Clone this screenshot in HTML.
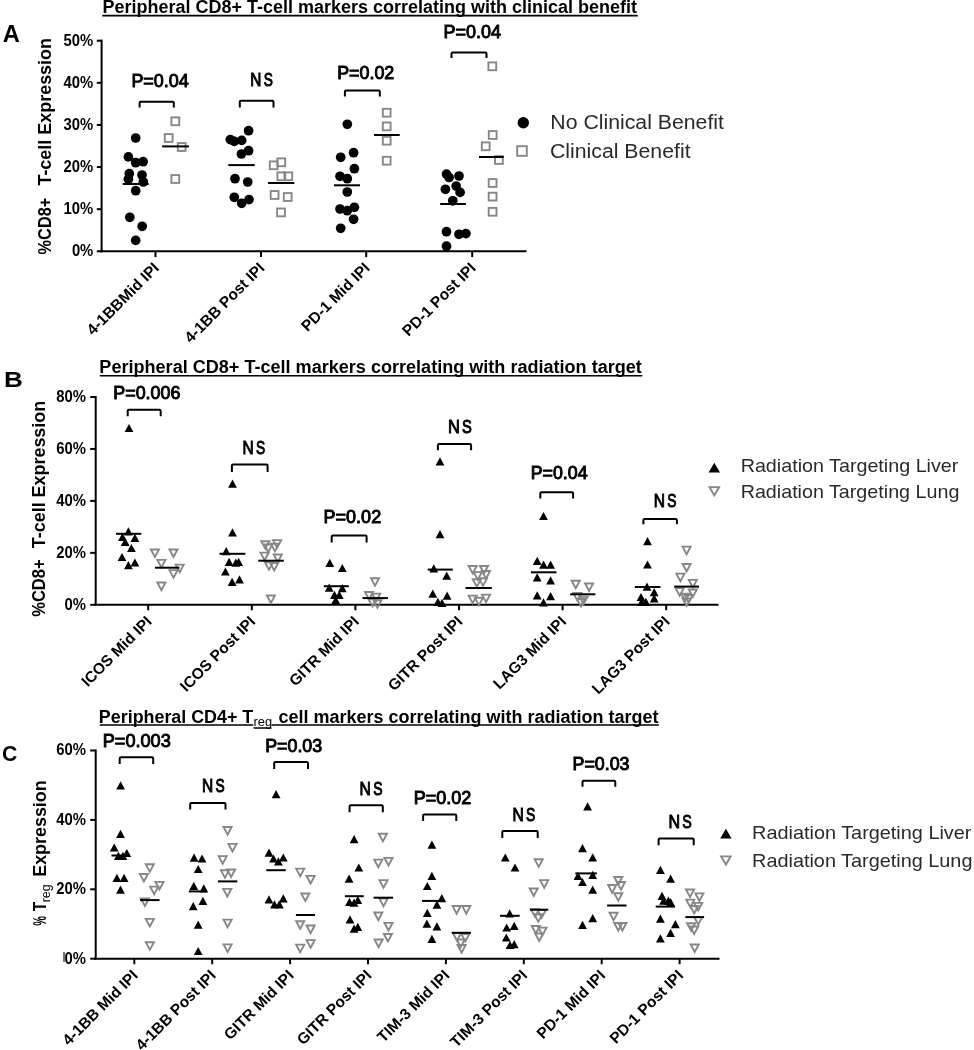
<!DOCTYPE html>
<html><head><meta charset="utf-8"><style>
html,body{margin:0;padding:0;background:#fff;}
body{width:974px;height:1050px;overflow:hidden;}
svg{display:block;font-family:"Liberation Sans", sans-serif;filter:grayscale(1) blur(0.35px);}
</style></head><body>
<svg width="974" height="1050" viewBox="0 0 974 1050">
<rect width="974" height="1050" fill="#fff"/>
<text x="2.71" y="41.80" font-size="23.5" font-weight="bold" text-anchor="start" fill="#000" textLength="17.14" lengthAdjust="spacingAndGlyphs">A</text>
<text x="102.59" y="12.60" font-size="17.6" font-weight="bold" text-anchor="start" fill="#000" textLength="534.36" lengthAdjust="spacingAndGlyphs">Peripheral CD8+ T-cell markers correlating with clinical benefit</text>
<line x1="102.30" y1="15.60" x2="637.80" y2="15.60" stroke="#000" stroke-width="1.6"/>
<text transform="translate(50.60 254.41) rotate(-90)" font-size="18.3" font-weight="bold" fill="#000" textLength="56.68" lengthAdjust="spacingAndGlyphs">%CD8+</text>
<text transform="translate(50.60 185.58) rotate(-90)" font-size="18.3" font-weight="bold" fill="#000" textLength="147.57" lengthAdjust="spacingAndGlyphs">T-cell Expression</text>
<line x1="101.60" y1="39.70" x2="101.60" y2="252.30" stroke="#000" stroke-width="2.0"/>
<line x1="100.60" y1="251.30" x2="526.50" y2="251.30" stroke="#000" stroke-width="2.0"/>
<line x1="96.80" y1="251.30" x2="101.60" y2="251.30" stroke="#000" stroke-width="2.0"/>
<line x1="96.80" y1="209.18" x2="101.60" y2="209.18" stroke="#000" stroke-width="2.0"/>
<line x1="96.80" y1="167.06" x2="101.60" y2="167.06" stroke="#000" stroke-width="2.0"/>
<line x1="96.80" y1="124.94" x2="101.60" y2="124.94" stroke="#000" stroke-width="2.0"/>
<line x1="96.80" y1="82.82" x2="101.60" y2="82.82" stroke="#000" stroke-width="2.0"/>
<line x1="96.80" y1="40.70" x2="101.60" y2="40.70" stroke="#000" stroke-width="2.0"/>
<text x="71.89" y="256.10" font-size="16.2" font-weight="bold" text-anchor="start" fill="#000" textLength="21.42" lengthAdjust="spacingAndGlyphs">0%</text>
<text x="63.62" y="213.98" font-size="16.2" font-weight="bold" text-anchor="start" fill="#000" textLength="29.67" lengthAdjust="spacingAndGlyphs">10%</text>
<text x="63.62" y="171.86" font-size="16.2" font-weight="bold" text-anchor="start" fill="#000" textLength="29.67" lengthAdjust="spacingAndGlyphs">20%</text>
<text x="63.62" y="129.74" font-size="16.2" font-weight="bold" text-anchor="start" fill="#000" textLength="29.67" lengthAdjust="spacingAndGlyphs">30%</text>
<text x="63.62" y="87.62" font-size="16.2" font-weight="bold" text-anchor="start" fill="#000" textLength="29.67" lengthAdjust="spacingAndGlyphs">40%</text>
<text x="63.62" y="45.50" font-size="16.2" font-weight="bold" text-anchor="start" fill="#000" textLength="29.67" lengthAdjust="spacingAndGlyphs">50%</text>
<line x1="155.50" y1="251.30" x2="155.50" y2="257.10" stroke="#000" stroke-width="2.0"/>
<line x1="261.00" y1="251.30" x2="261.00" y2="257.10" stroke="#000" stroke-width="2.0"/>
<line x1="366.20" y1="251.30" x2="366.20" y2="257.10" stroke="#000" stroke-width="2.0"/>
<line x1="472.20" y1="251.30" x2="472.20" y2="257.10" stroke="#000" stroke-width="2.0"/>
<text transform="translate(160.10 268.90) rotate(-45)" font-size="15.5" font-weight="bold" text-anchor="end">4-1BBMid IPI</text>
<text transform="translate(265.60 268.90) rotate(-45)" font-size="15.5" font-weight="bold" text-anchor="end">4-1BB Post IPI</text>
<text transform="translate(370.80 268.90) rotate(-45)" font-size="15.5" font-weight="bold" text-anchor="end">PD-1 Mid IPI</text>
<text transform="translate(476.80 268.90) rotate(-45)" font-size="15.5" font-weight="bold" text-anchor="end">PD-1 Post IPI</text>
<circle cx="135.7" cy="138" r="4.85" fill="#000"/>
<circle cx="128.4" cy="156.9" r="4.85" fill="#000"/>
<circle cx="135.7" cy="162.7" r="4.85" fill="#000"/>
<circle cx="143.1" cy="161.7" r="4.85" fill="#000"/>
<circle cx="129.3" cy="173.7" r="4.85" fill="#000"/>
<circle cx="142" cy="175" r="4.85" fill="#000"/>
<circle cx="128.4" cy="179.3" r="4.85" fill="#000"/>
<circle cx="143.3" cy="182" r="4.85" fill="#000"/>
<circle cx="135.7" cy="190.7" r="4.85" fill="#000"/>
<circle cx="129.8" cy="217.3" r="4.85" fill="#000"/>
<circle cx="142.2" cy="226.3" r="4.85" fill="#000"/>
<circle cx="135.7" cy="240.4" r="4.85" fill="#000"/>
<circle cx="248.6" cy="130.7" r="4.85" fill="#000"/>
<circle cx="230.3" cy="139.6" r="4.85" fill="#000"/>
<circle cx="234.3" cy="141.3" r="4.85" fill="#000"/>
<circle cx="241.7" cy="140.4" r="4.85" fill="#000"/>
<circle cx="248.6" cy="150.7" r="4.85" fill="#000"/>
<circle cx="241.4" cy="154" r="4.85" fill="#000"/>
<circle cx="235" cy="178.7" r="4.85" fill="#000"/>
<circle cx="247.7" cy="182" r="4.85" fill="#000"/>
<circle cx="234.3" cy="197.3" r="4.85" fill="#000"/>
<circle cx="241.7" cy="203.3" r="4.85" fill="#000"/>
<circle cx="249" cy="199.6" r="4.85" fill="#000"/>
<circle cx="347.3" cy="124.3" r="4.85" fill="#000"/>
<circle cx="353.6" cy="152.7" r="4.85" fill="#000"/>
<circle cx="340.7" cy="157.3" r="4.85" fill="#000"/>
<circle cx="354.4" cy="168.7" r="4.85" fill="#000"/>
<circle cx="340" cy="176.3" r="4.85" fill="#000"/>
<circle cx="347.3" cy="178.7" r="4.85" fill="#000"/>
<circle cx="347.3" cy="192" r="4.85" fill="#000"/>
<circle cx="340" cy="209" r="4.85" fill="#000"/>
<circle cx="347.3" cy="210.7" r="4.85" fill="#000"/>
<circle cx="354.4" cy="207.3" r="4.85" fill="#000"/>
<circle cx="353.6" cy="219.3" r="4.85" fill="#000"/>
<circle cx="340.7" cy="228.3" r="4.85" fill="#000"/>
<circle cx="446.5" cy="174.1" r="4.85" fill="#000"/>
<circle cx="449.1" cy="177.5" r="4.85" fill="#000"/>
<circle cx="459" cy="176" r="4.85" fill="#000"/>
<circle cx="445.4" cy="189.3" r="4.85" fill="#000"/>
<circle cx="456.2" cy="186.1" r="4.85" fill="#000"/>
<circle cx="460.1" cy="192.4" r="4.85" fill="#000"/>
<circle cx="452.8" cy="200.8" r="4.85" fill="#000"/>
<circle cx="446.5" cy="231.7" r="4.85" fill="#000"/>
<circle cx="459" cy="234.3" r="4.85" fill="#000"/>
<circle cx="465.9" cy="233.6" r="4.85" fill="#000"/>
<circle cx="446.5" cy="246.2" r="4.85" fill="#000"/>
<rect x="171.40" y="117.40" width="7.8" height="7.8" fill="none" stroke="#878787" stroke-width="1.9"/>
<rect x="164.80" y="134.10" width="7.8" height="7.8" fill="none" stroke="#878787" stroke-width="1.9"/>
<rect x="177.80" y="143.10" width="7.8" height="7.8" fill="none" stroke="#878787" stroke-width="1.9"/>
<rect x="171.40" y="175.10" width="7.8" height="7.8" fill="none" stroke="#878787" stroke-width="1.9"/>
<rect x="269.80" y="161.40" width="7.8" height="7.8" fill="none" stroke="#878787" stroke-width="1.9"/>
<rect x="277.40" y="158.40" width="7.8" height="7.8" fill="none" stroke="#878787" stroke-width="1.9"/>
<rect x="277.40" y="172.40" width="7.8" height="7.8" fill="none" stroke="#878787" stroke-width="1.9"/>
<rect x="284.40" y="172.40" width="7.8" height="7.8" fill="none" stroke="#878787" stroke-width="1.9"/>
<rect x="270.70" y="191.10" width="7.8" height="7.8" fill="none" stroke="#878787" stroke-width="1.9"/>
<rect x="283.80" y="193.10" width="7.8" height="7.8" fill="none" stroke="#878787" stroke-width="1.9"/>
<rect x="277.10" y="208.50" width="7.8" height="7.8" fill="none" stroke="#878787" stroke-width="1.9"/>
<rect x="382.80" y="108.80" width="7.8" height="7.8" fill="none" stroke="#878787" stroke-width="1.9"/>
<rect x="382.80" y="122.50" width="7.8" height="7.8" fill="none" stroke="#878787" stroke-width="1.9"/>
<rect x="382.80" y="136.80" width="7.8" height="7.8" fill="none" stroke="#878787" stroke-width="1.9"/>
<rect x="382.80" y="156.80" width="7.8" height="7.8" fill="none" stroke="#878787" stroke-width="1.9"/>
<rect x="488.40" y="62.40" width="7.8" height="7.8" fill="none" stroke="#878787" stroke-width="1.9"/>
<rect x="488.80" y="131.10" width="7.8" height="7.8" fill="none" stroke="#878787" stroke-width="1.9"/>
<rect x="481.80" y="142.40" width="7.8" height="7.8" fill="none" stroke="#878787" stroke-width="1.9"/>
<rect x="495.00" y="156.10" width="7.8" height="7.8" fill="none" stroke="#878787" stroke-width="1.9"/>
<rect x="488.70" y="179.10" width="7.8" height="7.8" fill="none" stroke="#878787" stroke-width="1.9"/>
<rect x="488.70" y="192.70" width="7.8" height="7.8" fill="none" stroke="#878787" stroke-width="1.9"/>
<rect x="488.70" y="207.90" width="7.8" height="7.8" fill="none" stroke="#878787" stroke-width="1.9"/>
<line x1="122.70" y1="184.00" x2="148.70" y2="184.00" stroke="#000" stroke-width="2.0"/>
<line x1="162.10" y1="146.40" x2="188.90" y2="146.40" stroke="#000" stroke-width="2.0"/>
<line x1="228.30" y1="165.10" x2="254.70" y2="165.10" stroke="#000" stroke-width="2.0"/>
<line x1="268.00" y1="183.00" x2="294.30" y2="183.00" stroke="#000" stroke-width="2.0"/>
<line x1="334.00" y1="185.30" x2="360.00" y2="185.30" stroke="#000" stroke-width="2.0"/>
<line x1="374.00" y1="135.00" x2="399.70" y2="135.00" stroke="#000" stroke-width="2.0"/>
<line x1="440.20" y1="204.00" x2="465.90" y2="204.00" stroke="#000" stroke-width="2.0"/>
<line x1="479.00" y1="157.00" x2="503.70" y2="157.00" stroke="#000" stroke-width="2.0"/>
<path d="M139.60 107.60V103.00Q139.60 101.80 140.80 101.80H172.60Q173.80 101.80 173.80 103.00V107.60" fill="none" stroke="#000" stroke-width="2.0"/>
<text stroke="#000" stroke-width="1.0" x="131.42" y="87.00" font-size="18.6" font-weight="normal" text-anchor="start" fill="#000" textLength="57.31" lengthAdjust="spacingAndGlyphs">P=0.04</text>
<path d="M239.80 107.60V102.00Q239.80 100.80 241.00 100.80H272.30Q273.50 100.80 273.50 102.00V107.60" fill="none" stroke="#000" stroke-width="2.0"/>
<text stroke="#000" stroke-width="1.0" x="250.33" y="85.80" font-size="18.6" font-weight="normal" text-anchor="start" fill="#000" textLength="11.13" lengthAdjust="spacingAndGlyphs">N</text>
<text stroke="#000" stroke-width="1.0" x="263.66" y="85.80" font-size="18.6" font-weight="normal" text-anchor="start" fill="#000" textLength="9.15" lengthAdjust="spacingAndGlyphs">S</text>
<path d="M344.90 96.40V91.60Q344.90 90.40 346.10 90.40H378.60Q379.80 90.40 379.80 91.60V96.40" fill="none" stroke="#000" stroke-width="2.0"/>
<text stroke="#000" stroke-width="1.0" x="337.23" y="79.40" font-size="18.6" font-weight="normal" text-anchor="start" fill="#000" textLength="57.00" lengthAdjust="spacingAndGlyphs">P=0.02</text>
<path d="M451.50 58.00V53.80Q451.50 52.60 452.70 52.60H485.30Q486.50 52.60 486.50 53.80V58.00" fill="none" stroke="#000" stroke-width="2.0"/>
<text stroke="#000" stroke-width="1.0" x="443.52" y="37.80" font-size="18.6" font-weight="normal" text-anchor="start" fill="#000" textLength="57.52" lengthAdjust="spacingAndGlyphs">P=0.04</text>
<circle cx="523.3" cy="122.7" r="5.7" fill="#000"/>
<rect x="517.20" y="146.20" width="9.6" height="9.6" fill="none" stroke="#878787" stroke-width="1.9"/>
<text x="550.35" y="128.70" font-size="19.6" font-weight="normal" text-anchor="start" fill="#2a2a2a" textLength="173.63" lengthAdjust="spacingAndGlyphs">No Clinical Benefit</text>
<text x="549.94" y="157.80" font-size="19.6" font-weight="normal" text-anchor="start" fill="#2a2a2a" textLength="140.61" lengthAdjust="spacingAndGlyphs">Clinical Benefit</text>
<text x="4.04" y="386.80" font-size="22.5" font-weight="bold" text-anchor="start" fill="#000" textLength="18.82" lengthAdjust="spacingAndGlyphs">B</text>
<text x="99.38" y="373.10" font-size="17.6" font-weight="bold" text-anchor="start" fill="#000" textLength="542.47" lengthAdjust="spacingAndGlyphs">Peripheral CD8+ T-cell markers correlating with radiation target</text>
<line x1="99.80" y1="375.70" x2="642.30" y2="375.70" stroke="#000" stroke-width="1.6"/>
<text transform="translate(44.50 616.81) rotate(-90)" font-size="18.3" font-weight="bold" fill="#000" textLength="57.39" lengthAdjust="spacingAndGlyphs">%CD8+</text>
<text transform="translate(44.50 548.18) rotate(-90)" font-size="18.3" font-weight="bold" fill="#000" textLength="147.37" lengthAdjust="spacingAndGlyphs">T-cell Expression</text>
<line x1="95.70" y1="396.00" x2="95.70" y2="605.80" stroke="#000" stroke-width="2.0"/>
<line x1="94.70" y1="604.80" x2="718.50" y2="604.80" stroke="#000" stroke-width="2.0"/>
<line x1="90.20" y1="604.80" x2="95.70" y2="604.80" stroke="#000" stroke-width="2.0"/>
<line x1="90.20" y1="552.85" x2="95.70" y2="552.85" stroke="#000" stroke-width="2.0"/>
<line x1="90.20" y1="500.90" x2="95.70" y2="500.90" stroke="#000" stroke-width="2.0"/>
<line x1="90.20" y1="448.95" x2="95.70" y2="448.95" stroke="#000" stroke-width="2.0"/>
<line x1="90.20" y1="397.00" x2="95.70" y2="397.00" stroke="#000" stroke-width="2.0"/>
<text x="64.59" y="609.60" font-size="16.2" font-weight="bold" text-anchor="start" fill="#000" textLength="21.42" lengthAdjust="spacingAndGlyphs">0%</text>
<text x="56.32" y="557.65" font-size="16.2" font-weight="bold" text-anchor="start" fill="#000" textLength="29.67" lengthAdjust="spacingAndGlyphs">20%</text>
<text x="56.32" y="505.70" font-size="16.2" font-weight="bold" text-anchor="start" fill="#000" textLength="29.67" lengthAdjust="spacingAndGlyphs">40%</text>
<text x="56.32" y="453.75" font-size="16.2" font-weight="bold" text-anchor="start" fill="#000" textLength="29.67" lengthAdjust="spacingAndGlyphs">60%</text>
<text x="56.32" y="401.80" font-size="16.2" font-weight="bold" text-anchor="start" fill="#000" textLength="29.67" lengthAdjust="spacingAndGlyphs">80%</text>
<line x1="148.20" y1="604.80" x2="148.20" y2="610.30" stroke="#000" stroke-width="2.0"/>
<line x1="251.80" y1="604.80" x2="251.80" y2="610.30" stroke="#000" stroke-width="2.0"/>
<line x1="355.40" y1="604.80" x2="355.40" y2="610.30" stroke="#000" stroke-width="2.0"/>
<line x1="459.00" y1="604.80" x2="459.00" y2="610.30" stroke="#000" stroke-width="2.0"/>
<line x1="562.60" y1="604.80" x2="562.60" y2="610.30" stroke="#000" stroke-width="2.0"/>
<line x1="666.20" y1="604.80" x2="666.20" y2="610.30" stroke="#000" stroke-width="2.0"/>
<text transform="translate(152.80 622.40) rotate(-45)" font-size="15.5" font-weight="bold" text-anchor="end">ICOS Mid IPI</text>
<text transform="translate(256.40 622.40) rotate(-45)" font-size="15.5" font-weight="bold" text-anchor="end">ICOS Post IPI</text>
<text transform="translate(360.00 622.40) rotate(-45)" font-size="15.5" font-weight="bold" text-anchor="end">GITR Mid IPI</text>
<text transform="translate(463.60 622.40) rotate(-45)" font-size="15.5" font-weight="bold" text-anchor="end">GITR Post IPI</text>
<text transform="translate(567.20 622.40) rotate(-45)" font-size="15.5" font-weight="bold" text-anchor="end">LAG3 Mid IPI</text>
<text transform="translate(670.80 622.40) rotate(-45)" font-size="15.5" font-weight="bold" text-anchor="end">LAG3 Post IPI</text>
<path d="M124.60 432.10H133.40L129.00 423.90Z" fill="#000"/>
<path d="M124.00 535.50H132.80L128.40 527.30Z" fill="#000"/>
<path d="M118.00 541.10H126.80L122.40 532.90Z" fill="#000"/>
<path d="M130.50 542.00H139.30L134.90 533.80Z" fill="#000"/>
<path d="M120.80 545.90H129.60L125.20 537.70Z" fill="#000"/>
<path d="M127.00 552.10H135.80L131.40 543.90Z" fill="#000"/>
<path d="M117.60 561.10H126.40L122.00 552.90Z" fill="#000"/>
<path d="M124.00 569.30H132.80L128.40 561.10Z" fill="#000"/>
<path d="M130.50 566.60H139.30L134.90 558.40Z" fill="#000"/>
<path d="M228.10 487.70H236.90L232.50 479.50Z" fill="#000"/>
<path d="M228.10 536.40H236.90L232.50 528.20Z" fill="#000"/>
<path d="M221.80 555.30H230.60L226.20 547.10Z" fill="#000"/>
<path d="M224.70 566.00H233.50L229.10 557.80Z" fill="#000"/>
<path d="M231.40 566.70H240.20L235.80 558.50Z" fill="#000"/>
<path d="M234.30 566.00H243.10L238.70 557.80Z" fill="#000"/>
<path d="M221.00 575.60H229.80L225.40 567.40Z" fill="#000"/>
<path d="M227.70 585.90H236.50L232.10 577.70Z" fill="#000"/>
<path d="M235.10 583.40H243.90L239.50 575.20Z" fill="#000"/>
<path d="M325.40 567.00H334.20L329.80 558.80Z" fill="#000"/>
<path d="M337.90 572.10H346.70L342.30 563.90Z" fill="#000"/>
<path d="M324.80 591.70H333.60L329.20 583.50Z" fill="#000"/>
<path d="M337.90 592.30H346.70L342.30 584.10Z" fill="#000"/>
<path d="M330.10 598.90H338.90L334.50 590.70Z" fill="#000"/>
<path d="M334.90 598.90H343.70L339.30 590.70Z" fill="#000"/>
<path d="M331.30 604.10H340.10L335.70 595.90Z" fill="#000"/>
<path d="M435.60 465.50H444.40L440.00 457.30Z" fill="#000"/>
<path d="M435.60 538.30H444.40L440.00 530.10Z" fill="#000"/>
<path d="M429.40 572.50H438.20L433.80 564.30Z" fill="#000"/>
<path d="M442.30 579.80H451.10L446.70 571.60Z" fill="#000"/>
<path d="M428.40 597.70H437.20L432.80 589.50Z" fill="#000"/>
<path d="M442.70 599.70H451.50L447.10 591.50Z" fill="#000"/>
<path d="M433.50 605.90H442.30L437.90 597.70Z" fill="#000"/>
<path d="M437.60 606.90H446.40L442.00 598.70Z" fill="#000"/>
<path d="M539.10 520.10H547.90L543.50 511.90Z" fill="#000"/>
<path d="M532.80 564.90H541.60L537.20 556.70Z" fill="#000"/>
<path d="M539.10 568.80H547.90L543.50 560.60Z" fill="#000"/>
<path d="M546.20 568.80H555.00L550.60 560.60Z" fill="#000"/>
<path d="M532.80 581.40H541.60L537.20 573.20Z" fill="#000"/>
<path d="M546.20 584.50H555.00L550.60 576.30Z" fill="#000"/>
<path d="M532.80 599.40H541.60L537.20 591.20Z" fill="#000"/>
<path d="M546.20 600.20H555.00L550.60 592.00Z" fill="#000"/>
<path d="M539.10 606.50H547.90L543.50 598.30Z" fill="#000"/>
<path d="M643.10 545.20H651.90L647.50 537.00Z" fill="#000"/>
<path d="M643.10 568.60H651.90L647.50 560.40Z" fill="#000"/>
<path d="M642.60 590.70H651.40L647.00 582.50Z" fill="#000"/>
<path d="M649.80 596.30H658.60L654.20 588.10Z" fill="#000"/>
<path d="M636.60 601.10H645.40L641.00 592.90Z" fill="#000"/>
<path d="M649.80 602.50H658.60L654.20 594.30Z" fill="#000"/>
<path d="M641.50 605.90H650.30L645.90 597.70Z" fill="#000"/>
<path d="M637.30 605.90H646.10L641.70 597.70Z" fill="#000"/>
<path d="M150.85 549.45H158.95L154.90 557.05Z" fill="none" stroke="#878787" stroke-width="1.9"/>
<path d="M169.45 549.45H177.55L173.50 557.05Z" fill="none" stroke="#878787" stroke-width="1.9"/>
<path d="M157.35 559.85H165.45L161.40 567.45Z" fill="none" stroke="#878787" stroke-width="1.9"/>
<path d="M175.65 564.65H183.75L179.70 572.25Z" fill="none" stroke="#878787" stroke-width="1.9"/>
<path d="M169.45 570.15H177.55L173.50 577.75Z" fill="none" stroke="#878787" stroke-width="1.9"/>
<path d="M157.35 582.55H165.45L161.40 590.15Z" fill="none" stroke="#878787" stroke-width="1.9"/>
<path d="M261.25 541.25H269.35L265.30 548.85Z" fill="none" stroke="#878787" stroke-width="1.9"/>
<path d="M273.05 540.15H281.15L277.10 547.75Z" fill="none" stroke="#878787" stroke-width="1.9"/>
<path d="M264.25 544.55H272.35L268.30 552.15Z" fill="none" stroke="#878787" stroke-width="1.9"/>
<path d="M270.85 543.75H278.95L274.90 551.35Z" fill="none" stroke="#878787" stroke-width="1.9"/>
<path d="M260.55 552.65H268.65L264.60 560.25Z" fill="none" stroke="#878787" stroke-width="1.9"/>
<path d="M273.75 554.55H281.85L277.80 562.15Z" fill="none" stroke="#878787" stroke-width="1.9"/>
<path d="M264.95 562.25H273.05L269.00 569.85Z" fill="none" stroke="#878787" stroke-width="1.9"/>
<path d="M270.15 562.95H278.25L274.20 570.55Z" fill="none" stroke="#878787" stroke-width="1.9"/>
<path d="M266.85 595.45H274.95L270.90 603.05Z" fill="none" stroke="#878787" stroke-width="1.9"/>
<path d="M370.95 578.25H379.05L375.00 585.85Z" fill="none" stroke="#878787" stroke-width="1.9"/>
<path d="M364.95 591.95H373.05L369.00 599.55Z" fill="none" stroke="#878787" stroke-width="1.9"/>
<path d="M372.15 593.65H380.25L376.20 601.25Z" fill="none" stroke="#878787" stroke-width="1.9"/>
<path d="M368.55 598.95H376.65L372.60 606.55Z" fill="none" stroke="#878787" stroke-width="1.9"/>
<path d="M373.35 600.25H381.45L377.40 607.85Z" fill="none" stroke="#878787" stroke-width="1.9"/>
<path d="M468.65 565.95H476.75L472.70 573.55Z" fill="none" stroke="#878787" stroke-width="1.9"/>
<path d="M479.95 565.95H488.05L484.00 573.55Z" fill="none" stroke="#878787" stroke-width="1.9"/>
<path d="M473.75 572.15H481.85L477.80 579.75Z" fill="none" stroke="#878787" stroke-width="1.9"/>
<path d="M481.95 571.05H490.05L486.00 578.65Z" fill="none" stroke="#878787" stroke-width="1.9"/>
<path d="M472.75 579.25H480.85L476.80 586.85Z" fill="none" stroke="#878787" stroke-width="1.9"/>
<path d="M478.95 578.25H487.05L483.00 585.85Z" fill="none" stroke="#878787" stroke-width="1.9"/>
<path d="M468.65 595.65H476.75L472.70 603.25Z" fill="none" stroke="#878787" stroke-width="1.9"/>
<path d="M474.85 597.75H482.95L478.90 605.35Z" fill="none" stroke="#878787" stroke-width="1.9"/>
<path d="M481.95 594.65H490.05L486.00 602.25Z" fill="none" stroke="#878787" stroke-width="1.9"/>
<path d="M571.65 580.75H579.75L575.70 588.35Z" fill="none" stroke="#878787" stroke-width="1.9"/>
<path d="M585.05 583.45H593.15L589.10 591.05Z" fill="none" stroke="#878787" stroke-width="1.9"/>
<path d="M573.25 592.85H581.35L577.30 600.45Z" fill="none" stroke="#878787" stroke-width="1.9"/>
<path d="M579.55 596.75H587.65L583.60 604.35Z" fill="none" stroke="#878787" stroke-width="1.9"/>
<path d="M576.95 598.95H585.05L581.00 606.55Z" fill="none" stroke="#878787" stroke-width="1.9"/>
<path d="M682.55 546.65H690.65L686.60 554.25Z" fill="none" stroke="#878787" stroke-width="1.9"/>
<path d="M682.55 563.95H690.65L686.60 571.55Z" fill="none" stroke="#878787" stroke-width="1.9"/>
<path d="M676.35 573.65H684.45L680.40 581.25Z" fill="none" stroke="#878787" stroke-width="1.9"/>
<path d="M688.75 579.85H696.85L692.80 587.45Z" fill="none" stroke="#878787" stroke-width="1.9"/>
<path d="M675.65 588.15H683.75L679.70 595.75Z" fill="none" stroke="#878787" stroke-width="1.9"/>
<path d="M688.75 589.45H696.85L692.80 597.05Z" fill="none" stroke="#878787" stroke-width="1.9"/>
<path d="M681.15 593.65H689.25L685.20 601.25Z" fill="none" stroke="#878787" stroke-width="1.9"/>
<path d="M684.65 595.05H692.75L688.70 602.65Z" fill="none" stroke="#878787" stroke-width="1.9"/>
<path d="M682.55 598.45H690.65L686.60 606.05Z" fill="none" stroke="#878787" stroke-width="1.9"/>
<line x1="116.00" y1="533.80" x2="141.30" y2="533.80" stroke="#000" stroke-width="2.0"/>
<line x1="154.90" y1="567.70" x2="179.40" y2="567.70" stroke="#000" stroke-width="2.0"/>
<line x1="219.50" y1="553.80" x2="245.40" y2="553.80" stroke="#000" stroke-width="2.0"/>
<line x1="258.20" y1="560.70" x2="283.80" y2="560.70" stroke="#000" stroke-width="2.0"/>
<line x1="323.80" y1="586.20" x2="348.80" y2="586.20" stroke="#000" stroke-width="2.0"/>
<line x1="362.50" y1="598.10" x2="387.90" y2="598.10" stroke="#000" stroke-width="2.0"/>
<line x1="427.70" y1="569.60" x2="452.80" y2="569.60" stroke="#000" stroke-width="2.0"/>
<line x1="465.50" y1="588.00" x2="491.80" y2="588.00" stroke="#000" stroke-width="2.0"/>
<line x1="530.90" y1="572.30" x2="556.50" y2="572.30" stroke="#000" stroke-width="2.0"/>
<line x1="570.20" y1="594.30" x2="595.40" y2="594.30" stroke="#000" stroke-width="2.0"/>
<line x1="634.80" y1="587.00" x2="660.40" y2="587.00" stroke="#000" stroke-width="2.0"/>
<line x1="674.20" y1="586.60" x2="699.00" y2="586.60" stroke="#000" stroke-width="2.0"/>
<path d="M127.70 416.30V411.00Q127.70 409.80 128.90 409.80H159.50Q160.70 409.80 160.70 411.00V416.30" fill="none" stroke="#000" stroke-width="2.0"/>
<text stroke="#000" stroke-width="1.0" x="113.33" y="399.30" font-size="18.6" font-weight="normal" text-anchor="start" fill="#000" textLength="67.05" lengthAdjust="spacingAndGlyphs">P=0.006</text>
<path d="M231.90 472.00V465.60Q231.90 464.40 233.10 464.40H266.40Q267.60 464.40 267.60 465.60V472.00" fill="none" stroke="#000" stroke-width="2.0"/>
<text stroke="#000" stroke-width="1.0" x="242.62" y="454.40" font-size="18.6" font-weight="normal" text-anchor="start" fill="#000" textLength="11.19" lengthAdjust="spacingAndGlyphs">N</text>
<text stroke="#000" stroke-width="1.0" x="256.01" y="454.40" font-size="18.6" font-weight="normal" text-anchor="start" fill="#000" textLength="9.20" lengthAdjust="spacingAndGlyphs">S</text>
<path d="M331.70 542.40V536.80Q331.70 535.60 332.90 535.60H365.40Q366.60 535.60 366.60 536.80V542.40" fill="none" stroke="#000" stroke-width="2.0"/>
<text stroke="#000" stroke-width="1.0" x="323.62" y="522.50" font-size="18.6" font-weight="normal" text-anchor="start" fill="#000" textLength="57.53" lengthAdjust="spacingAndGlyphs">P=0.02</text>
<path d="M437.90 450.30V445.20Q437.90 444.00 439.10 444.00H469.90Q471.10 444.00 471.10 445.20V450.30" fill="none" stroke="#000" stroke-width="2.0"/>
<text stroke="#000" stroke-width="1.0" x="447.94" y="433.40" font-size="18.6" font-weight="normal" text-anchor="start" fill="#000" textLength="11.94" lengthAdjust="spacingAndGlyphs">N</text>
<text stroke="#000" stroke-width="1.0" x="462.12" y="433.40" font-size="18.6" font-weight="normal" text-anchor="start" fill="#000" textLength="9.83" lengthAdjust="spacingAndGlyphs">S</text>
<path d="M540.30 498.40V493.40Q540.30 492.20 541.50 492.20H571.90Q573.10 492.20 573.10 493.40V498.40" fill="none" stroke="#000" stroke-width="2.0"/>
<text stroke="#000" stroke-width="1.0" x="530.73" y="478.90" font-size="18.6" font-weight="normal" text-anchor="start" fill="#000" textLength="56.80" lengthAdjust="spacingAndGlyphs">P=0.04</text>
<path d="M643.40 524.20V520.20Q643.40 519.00 644.60 519.00H675.70Q676.90 519.00 676.90 520.20V524.20" fill="none" stroke="#000" stroke-width="2.0"/>
<text stroke="#000" stroke-width="1.0" x="653.82" y="507.20" font-size="18.6" font-weight="normal" text-anchor="start" fill="#000" textLength="11.24" lengthAdjust="spacingAndGlyphs">N</text>
<text stroke="#000" stroke-width="1.0" x="667.27" y="507.20" font-size="18.6" font-weight="normal" text-anchor="start" fill="#000" textLength="9.25" lengthAdjust="spacingAndGlyphs">S</text>
<path d="M708.60 472.40H720.00L714.30 462.80Z" fill="#000"/>
<path d="M709.50 487.15H719.10L714.30 495.35Z" fill="none" stroke="#878787" stroke-width="1.9"/>
<text x="740.67" y="472.30" font-size="18.4" font-weight="normal" text-anchor="start" fill="#2a2a2a" textLength="217.71" lengthAdjust="spacingAndGlyphs">Radiation Targeting Liver</text>
<text x="740.67" y="497.90" font-size="18.4" font-weight="normal" text-anchor="start" fill="#2a2a2a" textLength="218.69" lengthAdjust="spacingAndGlyphs">Radiation Targeting Lung</text>
<text x="1.95" y="761.00" font-size="22.0" font-weight="bold" text-anchor="start" fill="#000" textLength="15.33" lengthAdjust="spacingAndGlyphs">C</text>
<text x="98.89" y="722.80" font-size="17.6" font-weight="bold" text-anchor="start" fill="#000" textLength="154.38" lengthAdjust="spacingAndGlyphs">Peripheral CD4+ T</text>
<text x="253.56" y="725.80" font-size="13.5" font-weight="normal" text-anchor="start" fill="#000" textLength="18.65" lengthAdjust="spacingAndGlyphs">reg</text>
<text x="278.48" y="722.80" font-size="17.6" font-weight="bold" text-anchor="start" fill="#000" textLength="380.06" lengthAdjust="spacingAndGlyphs">cell markers correlating with radiation target</text>
<line x1="99.80" y1="725.10" x2="253.20" y2="725.10" stroke="#000" stroke-width="1.5"/>
<line x1="253.70" y1="728.00" x2="271.40" y2="728.00" stroke="#000" stroke-width="1.5"/>
<line x1="271.60" y1="725.10" x2="658.80" y2="725.10" stroke="#000" stroke-width="1.5"/>
<text transform="translate(46.30 925.67) rotate(-90)" font-size="18.3" font-weight="bold" fill="#000" textLength="9.66" lengthAdjust="spacingAndGlyphs">%</text>
<text transform="translate(46.30 911.35) rotate(-90)" font-size="18.3" font-weight="bold" fill="#000" textLength="9.42" lengthAdjust="spacingAndGlyphs">T</text>
<text transform="translate(49.90 902.31) rotate(-90)" font-size="13.5" font-weight="normal" fill="#000" textLength="17.99" lengthAdjust="spacingAndGlyphs">reg</text>
<text transform="translate(46.30 876.81) rotate(-90)" font-size="18.3" font-weight="bold" fill="#000" textLength="96.51" lengthAdjust="spacingAndGlyphs">Expression</text>
<line x1="95.70" y1="749.50" x2="95.70" y2="959.70" stroke="#000" stroke-width="2.0"/>
<line x1="94.70" y1="958.70" x2="719.50" y2="958.70" stroke="#000" stroke-width="2.0"/>
<line x1="90.20" y1="958.70" x2="95.70" y2="958.70" stroke="#000" stroke-width="2.0"/>
<line x1="90.20" y1="889.30" x2="95.70" y2="889.30" stroke="#000" stroke-width="2.0"/>
<line x1="90.20" y1="819.90" x2="95.70" y2="819.90" stroke="#000" stroke-width="2.0"/>
<line x1="90.20" y1="750.50" x2="95.70" y2="750.50" stroke="#000" stroke-width="2.0"/>
<text x="64.59" y="963.50" font-size="16.2" font-weight="bold" text-anchor="start" fill="#000" textLength="21.42" lengthAdjust="spacingAndGlyphs">0%</text>
<text x="56.32" y="894.10" font-size="16.2" font-weight="bold" text-anchor="start" fill="#000" textLength="29.67" lengthAdjust="spacingAndGlyphs">20%</text>
<text x="56.32" y="824.70" font-size="16.2" font-weight="bold" text-anchor="start" fill="#000" textLength="29.67" lengthAdjust="spacingAndGlyphs">40%</text>
<text x="56.32" y="755.30" font-size="16.2" font-weight="bold" text-anchor="start" fill="#000" textLength="29.67" lengthAdjust="spacingAndGlyphs">60%</text>
<line x1="64.00" y1="952.00" x2="64.00" y2="962.00" stroke="#555" stroke-width="1.6"/>
<line x1="134.30" y1="958.70" x2="134.30" y2="964.20" stroke="#000" stroke-width="2.0"/>
<line x1="212.20" y1="958.70" x2="212.20" y2="964.20" stroke="#000" stroke-width="2.0"/>
<line x1="290.10" y1="958.70" x2="290.10" y2="964.20" stroke="#000" stroke-width="2.0"/>
<line x1="368.00" y1="958.70" x2="368.00" y2="964.20" stroke="#000" stroke-width="2.0"/>
<line x1="445.90" y1="958.70" x2="445.90" y2="964.20" stroke="#000" stroke-width="2.0"/>
<line x1="523.80" y1="958.70" x2="523.80" y2="964.20" stroke="#000" stroke-width="2.0"/>
<line x1="601.70" y1="958.70" x2="601.70" y2="964.20" stroke="#000" stroke-width="2.0"/>
<line x1="679.60" y1="958.70" x2="679.60" y2="964.20" stroke="#000" stroke-width="2.0"/>
<text transform="translate(138.90 976.30) rotate(-45)" font-size="15.5" font-weight="bold" text-anchor="end">4-1BB Mid IPI</text>
<text transform="translate(216.80 976.30) rotate(-45)" font-size="15.5" font-weight="bold" text-anchor="end">4-1BB Post IPI</text>
<text transform="translate(294.70 976.30) rotate(-45)" font-size="15.5" font-weight="bold" text-anchor="end">GITR Mid IPI</text>
<text transform="translate(372.60 976.30) rotate(-45)" font-size="15.5" font-weight="bold" text-anchor="end">GITR Post IPI</text>
<text transform="translate(450.50 976.30) rotate(-45)" font-size="15.5" font-weight="bold" text-anchor="end">TIM-3 Mid IPI</text>
<text transform="translate(528.40 976.30) rotate(-45)" font-size="15.5" font-weight="bold" text-anchor="end">TIM-3 Post IPI</text>
<text transform="translate(606.30 976.30) rotate(-45)" font-size="15.5" font-weight="bold" text-anchor="end">PD-1 Mid IPI</text>
<text transform="translate(684.20 976.30) rotate(-45)" font-size="15.5" font-weight="bold" text-anchor="end">PD-1 Post IPI</text>
<path d="M116.20 789.50H125.00L120.60 781.30Z" fill="#000"/>
<path d="M116.10 837.90H124.90L120.50 829.70Z" fill="#000"/>
<path d="M109.80 851.60H118.60L114.20 843.40Z" fill="#000"/>
<path d="M122.40 857.10H131.20L126.80 848.90Z" fill="#000"/>
<path d="M114.00 860.00H122.80L118.40 851.80Z" fill="#000"/>
<path d="M118.50 860.00H127.30L122.90 851.80Z" fill="#000"/>
<path d="M112.50 881.90H121.30L116.90 873.70Z" fill="#000"/>
<path d="M119.70 881.90H128.50L124.10 873.70Z" fill="#000"/>
<path d="M116.10 893.80H124.90L120.50 885.60Z" fill="#000"/>
<path d="M189.70 861.70H198.50L194.10 853.50Z" fill="#000"/>
<path d="M197.60 862.60H206.40L202.00 854.40Z" fill="#000"/>
<path d="M193.80 873.10H202.60L198.20 864.90Z" fill="#000"/>
<path d="M189.40 889.90H198.20L193.80 881.70Z" fill="#000"/>
<path d="M199.40 892.50H208.20L203.80 884.30Z" fill="#000"/>
<path d="M198.50 904.90H207.30L202.90 896.70Z" fill="#000"/>
<path d="M188.80 910.20H197.60L193.20 902.00Z" fill="#000"/>
<path d="M193.80 928.70H202.60L198.20 920.50Z" fill="#000"/>
<path d="M193.80 955.10H202.60L198.20 946.90Z" fill="#000"/>
<path d="M271.70 798.20H280.50L276.10 790.00Z" fill="#000"/>
<path d="M264.60 856.70H273.40L269.00 848.50Z" fill="#000"/>
<path d="M269.10 862.60H277.90L273.50 854.40Z" fill="#000"/>
<path d="M274.00 865.50H282.80L278.40 857.30Z" fill="#000"/>
<path d="M278.90 861.60H287.70L283.30 853.40Z" fill="#000"/>
<path d="M264.60 903.50H273.40L269.00 895.30Z" fill="#000"/>
<path d="M270.10 908.40H278.90L274.50 900.20Z" fill="#000"/>
<path d="M275.00 908.40H283.80L279.40 900.20Z" fill="#000"/>
<path d="M278.90 902.50H287.70L283.30 894.30Z" fill="#000"/>
<path d="M349.70 843.20H358.50L354.10 835.00Z" fill="#000"/>
<path d="M354.40 871.60H363.20L358.80 863.40Z" fill="#000"/>
<path d="M344.70 882.70H353.50L349.10 874.50Z" fill="#000"/>
<path d="M345.10 905.90H353.90L349.50 897.70Z" fill="#000"/>
<path d="M349.70 906.80H358.50L354.10 898.60Z" fill="#000"/>
<path d="M353.40 904.10H362.20L357.80 895.90Z" fill="#000"/>
<path d="M345.60 923.50H354.40L350.00 915.30Z" fill="#000"/>
<path d="M349.70 932.80H358.50L354.10 924.60Z" fill="#000"/>
<path d="M353.40 931.00H362.20L357.80 922.80Z" fill="#000"/>
<path d="M427.50 848.70H436.30L431.90 840.50Z" fill="#000"/>
<path d="M427.50 879.90H436.30L431.90 871.70Z" fill="#000"/>
<path d="M422.90 890.10H431.70L427.30 881.90Z" fill="#000"/>
<path d="M437.40 902.20H446.20L441.80 894.00Z" fill="#000"/>
<path d="M432.50 908.70H441.30L436.90 900.50Z" fill="#000"/>
<path d="M422.90 917.00H431.70L427.30 908.80Z" fill="#000"/>
<path d="M422.50 927.80H431.30L426.90 919.60Z" fill="#000"/>
<path d="M432.50 930.40H441.30L436.90 922.20Z" fill="#000"/>
<path d="M427.50 943.00H436.30L431.90 934.80Z" fill="#000"/>
<path d="M500.90 861.60H509.70L505.30 853.40Z" fill="#000"/>
<path d="M510.60 871.60H519.40L515.00 863.40Z" fill="#000"/>
<path d="M505.30 917.40H514.10L509.70 909.20Z" fill="#000"/>
<path d="M502.30 931.60H511.10L506.70 923.40Z" fill="#000"/>
<path d="M509.80 929.90H518.60L514.20 921.70Z" fill="#000"/>
<path d="M501.90 941.60H510.70L506.30 933.40Z" fill="#000"/>
<path d="M505.60 949.10H514.40L510.00 940.90Z" fill="#000"/>
<path d="M509.80 948.30H518.60L514.20 940.10Z" fill="#000"/>
<path d="M583.20 810.40H592.00L587.60 802.20Z" fill="#000"/>
<path d="M578.10 852.30H586.90L582.50 844.10Z" fill="#000"/>
<path d="M588.30 861.50H597.10L592.70 853.30Z" fill="#000"/>
<path d="M573.60 879.90H582.40L578.00 871.70Z" fill="#000"/>
<path d="M578.10 886.10H586.90L582.50 877.90Z" fill="#000"/>
<path d="M588.30 878.90H597.10L592.70 870.70Z" fill="#000"/>
<path d="M588.30 893.80H597.10L592.70 885.60Z" fill="#000"/>
<path d="M588.30 922.30H597.10L592.70 914.10Z" fill="#000"/>
<path d="M578.10 929.00H586.90L582.50 920.80Z" fill="#000"/>
<path d="M656.00 874.00H664.80L660.40 865.80Z" fill="#000"/>
<path d="M666.20 882.70H675.00L670.60 874.50Z" fill="#000"/>
<path d="M657.60 900.00H666.40L662.00 891.80Z" fill="#000"/>
<path d="M663.90 904.70H672.70L668.30 896.50Z" fill="#000"/>
<path d="M666.20 906.30H675.00L670.60 898.10Z" fill="#000"/>
<path d="M659.20 904.70H668.00L663.60 896.50Z" fill="#000"/>
<path d="M656.00 922.80H664.80L660.40 914.60Z" fill="#000"/>
<path d="M671.00 928.30H679.80L675.40 920.10Z" fill="#000"/>
<path d="M666.20 936.90H675.00L670.60 928.70Z" fill="#000"/>
<path d="M656.00 942.40H664.80L660.40 934.20Z" fill="#000"/>
<path d="M145.75 864.25H153.85L149.80 871.85Z" fill="none" stroke="#878787" stroke-width="1.9"/>
<path d="M139.85 873.95H147.95L143.90 881.55Z" fill="none" stroke="#878787" stroke-width="1.9"/>
<path d="M155.45 881.85H163.55L159.50 889.45Z" fill="none" stroke="#878787" stroke-width="1.9"/>
<path d="M150.15 886.65H158.25L154.20 894.25Z" fill="none" stroke="#878787" stroke-width="1.9"/>
<path d="M140.85 898.35H148.95L144.90 905.95Z" fill="none" stroke="#878787" stroke-width="1.9"/>
<path d="M145.75 918.85H153.85L149.80 926.45Z" fill="none" stroke="#878787" stroke-width="1.9"/>
<path d="M145.85 942.25H153.95L149.90 949.85Z" fill="none" stroke="#878787" stroke-width="1.9"/>
<path d="M223.55 827.05H231.65L227.60 834.65Z" fill="none" stroke="#878787" stroke-width="1.9"/>
<path d="M228.45 843.85H236.55L232.50 851.45Z" fill="none" stroke="#878787" stroke-width="1.9"/>
<path d="M218.65 856.15H226.75L222.70 863.75Z" fill="none" stroke="#878787" stroke-width="1.9"/>
<path d="M220.95 870.25H229.05L225.00 877.85Z" fill="none" stroke="#878787" stroke-width="1.9"/>
<path d="M227.05 869.45H235.15L231.10 877.05Z" fill="none" stroke="#878787" stroke-width="1.9"/>
<path d="M223.25 888.85H231.35L227.30 896.45Z" fill="none" stroke="#878787" stroke-width="1.9"/>
<path d="M223.55 919.65H231.65L227.60 927.25Z" fill="none" stroke="#878787" stroke-width="1.9"/>
<path d="M223.55 944.35H231.65L227.60 951.95Z" fill="none" stroke="#878787" stroke-width="1.9"/>
<path d="M296.15 868.65H304.25L300.20 876.25Z" fill="none" stroke="#878787" stroke-width="1.9"/>
<path d="M306.55 875.85H314.65L310.60 883.45Z" fill="none" stroke="#878787" stroke-width="1.9"/>
<path d="M301.25 893.45H309.35L305.30 901.05Z" fill="none" stroke="#878787" stroke-width="1.9"/>
<path d="M296.15 921.25H304.25L300.20 928.85Z" fill="none" stroke="#878787" stroke-width="1.9"/>
<path d="M306.55 925.55H314.65L310.60 933.15Z" fill="none" stroke="#878787" stroke-width="1.9"/>
<path d="M306.55 940.15H314.65L310.60 947.75Z" fill="none" stroke="#878787" stroke-width="1.9"/>
<path d="M296.15 944.65H304.25L300.20 952.25Z" fill="none" stroke="#878787" stroke-width="1.9"/>
<path d="M378.85 833.75H386.95L382.90 841.35Z" fill="none" stroke="#878787" stroke-width="1.9"/>
<path d="M374.25 859.65H382.35L378.30 867.25Z" fill="none" stroke="#878787" stroke-width="1.9"/>
<path d="M384.45 857.85H392.55L388.50 865.45Z" fill="none" stroke="#878787" stroke-width="1.9"/>
<path d="M379.45 880.15H387.55L383.50 887.75Z" fill="none" stroke="#878787" stroke-width="1.9"/>
<path d="M379.45 898.65H387.55L383.50 906.25Z" fill="none" stroke="#878787" stroke-width="1.9"/>
<path d="M374.25 912.55H382.35L378.30 920.15Z" fill="none" stroke="#878787" stroke-width="1.9"/>
<path d="M384.45 922.85H392.55L388.50 930.45Z" fill="none" stroke="#878787" stroke-width="1.9"/>
<path d="M383.85 933.95H391.95L387.90 941.55Z" fill="none" stroke="#878787" stroke-width="1.9"/>
<path d="M374.55 939.55H382.65L378.60 947.15Z" fill="none" stroke="#878787" stroke-width="1.9"/>
<path d="M452.55 906.05H460.65L456.60 913.65Z" fill="none" stroke="#878787" stroke-width="1.9"/>
<path d="M462.25 906.05H470.35L466.30 913.65Z" fill="none" stroke="#878787" stroke-width="1.9"/>
<path d="M452.95 933.05H461.05L457.00 940.65Z" fill="none" stroke="#878787" stroke-width="1.9"/>
<path d="M461.25 933.95H469.35L465.30 941.55Z" fill="none" stroke="#878787" stroke-width="1.9"/>
<path d="M456.65 939.55H464.75L460.70 947.15Z" fill="none" stroke="#878787" stroke-width="1.9"/>
<path d="M457.55 945.05H465.65L461.60 952.65Z" fill="none" stroke="#878787" stroke-width="1.9"/>
<path d="M534.65 859.25H542.75L538.70 866.85Z" fill="none" stroke="#878787" stroke-width="1.9"/>
<path d="M540.15 880.15H548.25L544.20 887.75Z" fill="none" stroke="#878787" stroke-width="1.9"/>
<path d="M529.65 888.45H537.75L533.70 896.05Z" fill="none" stroke="#878787" stroke-width="1.9"/>
<path d="M530.95 909.25H539.05L535.00 916.85Z" fill="none" stroke="#878787" stroke-width="1.9"/>
<path d="M537.65 910.15H545.75L541.70 917.75Z" fill="none" stroke="#878787" stroke-width="1.9"/>
<path d="M534.25 914.25H542.35L538.30 921.85Z" fill="none" stroke="#878787" stroke-width="1.9"/>
<path d="M531.75 925.95H539.85L535.80 933.55Z" fill="none" stroke="#878787" stroke-width="1.9"/>
<path d="M538.45 927.65H546.55L542.50 935.25Z" fill="none" stroke="#878787" stroke-width="1.9"/>
<path d="M535.15 933.45H543.25L539.20 941.05Z" fill="none" stroke="#878787" stroke-width="1.9"/>
<path d="M614.25 876.95H622.35L618.30 884.55Z" fill="none" stroke="#878787" stroke-width="1.9"/>
<path d="M616.95 882.05H625.05L621.00 889.65Z" fill="none" stroke="#878787" stroke-width="1.9"/>
<path d="M608.15 885.05H616.25L612.20 892.65Z" fill="none" stroke="#878787" stroke-width="1.9"/>
<path d="M614.25 893.25H622.35L618.30 900.85Z" fill="none" stroke="#878787" stroke-width="1.9"/>
<path d="M609.55 912.75H617.65L613.60 920.35Z" fill="none" stroke="#878787" stroke-width="1.9"/>
<path d="M614.25 922.95H622.35L618.30 930.55Z" fill="none" stroke="#878787" stroke-width="1.9"/>
<path d="M618.35 922.95H626.45L622.40 930.55Z" fill="none" stroke="#878787" stroke-width="1.9"/>
<path d="M685.95 889.45H694.05L690.00 897.05Z" fill="none" stroke="#878787" stroke-width="1.9"/>
<path d="M695.35 893.35H703.45L699.40 900.95Z" fill="none" stroke="#878787" stroke-width="1.9"/>
<path d="M686.25 899.65H694.35L690.30 907.25Z" fill="none" stroke="#878787" stroke-width="1.9"/>
<path d="M694.15 902.85H702.25L698.20 910.45Z" fill="none" stroke="#878787" stroke-width="1.9"/>
<path d="M690.15 905.95H698.25L694.20 913.55Z" fill="none" stroke="#878787" stroke-width="1.9"/>
<path d="M694.15 916.95H702.25L698.20 924.55Z" fill="none" stroke="#878787" stroke-width="1.9"/>
<path d="M687.05 923.25H695.15L691.10 930.85Z" fill="none" stroke="#878787" stroke-width="1.9"/>
<path d="M690.15 926.45H698.25L694.20 934.05Z" fill="none" stroke="#878787" stroke-width="1.9"/>
<path d="M690.65 944.45H698.75L694.70 952.05Z" fill="none" stroke="#878787" stroke-width="1.9"/>
<line x1="111.50" y1="855.50" x2="130.00" y2="855.50" stroke="#000" stroke-width="2.0"/>
<line x1="140.00" y1="900.10" x2="159.50" y2="900.10" stroke="#000" stroke-width="2.0"/>
<line x1="188.80" y1="891.40" x2="206.50" y2="891.40" stroke="#000" stroke-width="2.0"/>
<line x1="217.90" y1="881.40" x2="237.30" y2="881.40" stroke="#000" stroke-width="2.0"/>
<line x1="266.30" y1="870.20" x2="285.80" y2="870.20" stroke="#000" stroke-width="2.0"/>
<line x1="295.90" y1="915.00" x2="315.00" y2="915.00" stroke="#000" stroke-width="2.0"/>
<line x1="344.90" y1="896.20" x2="363.80" y2="896.20" stroke="#000" stroke-width="2.0"/>
<line x1="373.60" y1="897.70" x2="393.10" y2="897.70" stroke="#000" stroke-width="2.0"/>
<line x1="422.10" y1="900.90" x2="443.10" y2="900.90" stroke="#000" stroke-width="2.0"/>
<line x1="451.80" y1="932.80" x2="470.90" y2="932.80" stroke="#000" stroke-width="2.0"/>
<line x1="500.00" y1="915.80" x2="519.70" y2="915.80" stroke="#000" stroke-width="2.0"/>
<line x1="530.00" y1="909.70" x2="548.30" y2="909.70" stroke="#000" stroke-width="2.0"/>
<line x1="575.30" y1="873.40" x2="596.80" y2="873.40" stroke="#000" stroke-width="2.0"/>
<line x1="607.10" y1="905.50" x2="626.50" y2="905.50" stroke="#000" stroke-width="2.0"/>
<line x1="655.70" y1="906.60" x2="674.90" y2="906.60" stroke="#000" stroke-width="2.0"/>
<line x1="685.30" y1="917.10" x2="704.10" y2="917.10" stroke="#000" stroke-width="2.0"/>
<path d="M119.70 764.10V758.50Q119.70 757.30 120.90 757.30H152.00Q153.20 757.30 153.20 758.50V764.10" fill="none" stroke="#000" stroke-width="2.0"/>
<text stroke="#000" stroke-width="1.0" x="102.70" y="747.40" font-size="18.6" font-weight="normal" text-anchor="start" fill="#000" textLength="68.09" lengthAdjust="spacingAndGlyphs">P=0.003</text>
<path d="M190.20 809.50V804.10Q190.20 802.90 191.40 802.90H224.30Q225.50 802.90 225.50 804.10V809.50" fill="none" stroke="#000" stroke-width="2.0"/>
<text stroke="#000" stroke-width="1.0" x="202.02" y="792.40" font-size="18.6" font-weight="normal" text-anchor="start" fill="#000" textLength="11.19" lengthAdjust="spacingAndGlyphs">N</text>
<text stroke="#000" stroke-width="1.0" x="215.41" y="792.40" font-size="18.6" font-weight="normal" text-anchor="start" fill="#000" textLength="9.20" lengthAdjust="spacingAndGlyphs">S</text>
<path d="M274.20 768.90V763.20Q274.20 762.00 275.40 762.00H306.80Q308.00 762.00 308.00 763.20V768.90" fill="none" stroke="#000" stroke-width="2.0"/>
<text stroke="#000" stroke-width="1.0" x="265.13" y="751.90" font-size="18.6" font-weight="normal" text-anchor="start" fill="#000" textLength="57.07" lengthAdjust="spacingAndGlyphs">P=0.03</text>
<path d="M349.60 812.30V806.50Q349.60 805.30 350.80 805.30H381.60Q382.80 805.30 382.80 806.50V812.30" fill="none" stroke="#000" stroke-width="2.0"/>
<text stroke="#000" stroke-width="1.0" x="359.60" y="794.70" font-size="18.6" font-weight="normal" text-anchor="start" fill="#000" textLength="11.36" lengthAdjust="spacingAndGlyphs">N</text>
<text stroke="#000" stroke-width="1.0" x="373.18" y="794.70" font-size="18.6" font-weight="normal" text-anchor="start" fill="#000" textLength="9.35" lengthAdjust="spacingAndGlyphs">S</text>
<path d="M423.10 821.00V815.80Q423.10 814.60 424.30 814.60H455.10Q456.30 814.60 456.30 815.80V821.00" fill="none" stroke="#000" stroke-width="2.0"/>
<text stroke="#000" stroke-width="1.0" x="413.71" y="804.00" font-size="18.6" font-weight="normal" text-anchor="start" fill="#000" textLength="57.63" lengthAdjust="spacingAndGlyphs">P=0.02</text>
<path d="M502.30 838.00V832.20Q502.30 831.00 503.50 831.00H536.50Q537.70 831.00 537.70 832.20V838.00" fill="none" stroke="#000" stroke-width="2.0"/>
<text stroke="#000" stroke-width="1.0" x="512.41" y="820.60" font-size="18.6" font-weight="normal" text-anchor="start" fill="#000" textLength="11.30" lengthAdjust="spacingAndGlyphs">N</text>
<text stroke="#000" stroke-width="1.0" x="525.92" y="820.60" font-size="18.6" font-weight="normal" text-anchor="start" fill="#000" textLength="9.30" lengthAdjust="spacingAndGlyphs">S</text>
<path d="M582.50 786.80V781.90Q582.50 780.70 583.70 780.70H614.10Q615.30 780.70 615.30 781.90V786.80" fill="none" stroke="#000" stroke-width="2.0"/>
<text stroke="#000" stroke-width="1.0" x="572.53" y="770.00" font-size="18.6" font-weight="normal" text-anchor="start" fill="#000" textLength="56.97" lengthAdjust="spacingAndGlyphs">P=0.03</text>
<path d="M658.60 845.30V839.60Q658.60 838.40 659.80 838.40H692.50Q693.70 838.40 693.70 839.60V845.30" fill="none" stroke="#000" stroke-width="2.0"/>
<text stroke="#000" stroke-width="1.0" x="668.48" y="828.10" font-size="18.6" font-weight="normal" text-anchor="start" fill="#000" textLength="11.59" lengthAdjust="spacingAndGlyphs">N</text>
<text stroke="#000" stroke-width="1.0" x="682.30" y="828.10" font-size="18.6" font-weight="normal" text-anchor="start" fill="#000" textLength="9.54" lengthAdjust="spacingAndGlyphs">S</text>
<path d="M720.20 838.40H731.60L725.90 828.80Z" fill="#000"/>
<path d="M721.10 856.35H730.70L725.90 864.55Z" fill="none" stroke="#878787" stroke-width="1.9"/>
<text x="752.06" y="839.10" font-size="18.4" font-weight="normal" text-anchor="start" fill="#2a2a2a" textLength="219.43" lengthAdjust="spacingAndGlyphs">Radiation Targeting Liver</text>
<text x="752.06" y="866.90" font-size="18.4" font-weight="normal" text-anchor="start" fill="#2a2a2a" textLength="220.41" lengthAdjust="spacingAndGlyphs">Radiation Targeting Lung</text>
</svg>
</body></html>
